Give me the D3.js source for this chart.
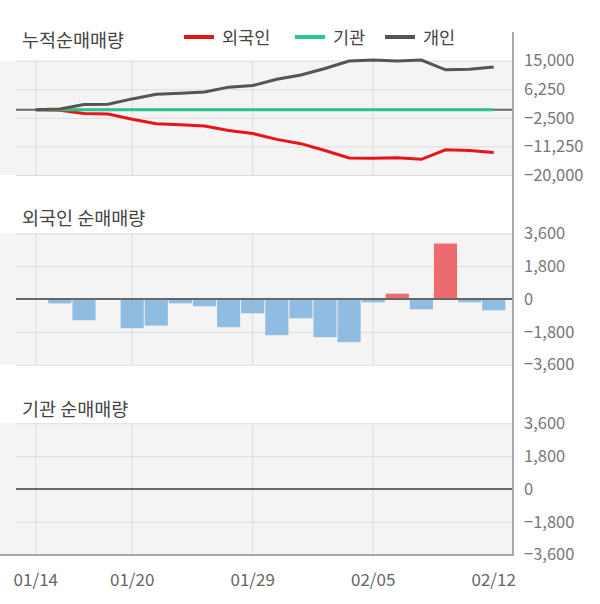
<!DOCTYPE html>
<html>
<head>
<meta charset="utf-8">
<script src="https://cdn.jsdelivr.net/npm/d3@7/dist/d3.min.js"></script>
<style>
  body { margin: 0; background: #fff; }
  text { font-family: "Noto Sans CJK KR", "Noto Sans", sans-serif; }
</style>
</head>
<body>
<div class="container"></div>
<script>
const dates = ['01/14','01/15','01/16','01/17','01/20','01/21','01/22','01/23','01/28','01/29',
               '01/30','01/31','02/03','02/04','02/05','02/06','02/07','02/10','02/11','02/12']
const dateLabels = ['01/14','01/20','01/29','02/05','02/12']
const gridDates = ['01/14','01/20','01/29','02/05']

// cumulative net buying
const foreignCum = [0,-200,-1200,-1300,-2900,-4300,-4600,-5000,-6400,-7300,
                    -9100,-10400,-12500,-14800,-14900,-14700,-15200,-12300,-12500,-13100]
const instCum = [0,0,0,0,0,0,0,0,0,0,0,0,0,0,0,0,0,0,0,0]
const personCum = [0,200,1600,1700,3300,4700,5000,5400,6900,7400,
                   9300,10600,12600,14900,15200,14900,15200,12200,12400,13100]

// daily net buying
const foreignDaily = [0,-240,-1165,0,-1600,-1456,-237,-400,-1547,-783,
                      -1984,-1056,-2093,-2366,-182,291,-564,3040,-182,-619]
const instDaily = [0,0,0,0,0,0,0,0,0,0,0,0,0,0,0,0,0,0,0,0]

const cumTicks = [15000, 6250, -2500, -11250, -20000]
const dailyTicks = [3600, 1800, 0, -1800, -3600]

const W = 600, H = 604
const plotL = 0, gridL = 16, plotR = 513

const svg = d3.select('.container').append('svg')
  .attr('width', W)
  .attr('height', H)

const x = d3.scaleBand()
  .domain(dates)
  .range([23.75, 505.75])
  .paddingInner(0.04)
  .paddingOuter(0.02)
const cx = d => x(d) + x.bandwidth() / 2

const fmt = d3.format(',')

function panel(top, bottom, domain, ticks, title, titleY) {
  const y = d3.scaleLinear().domain(domain).range([bottom, top])
  const g = svg.append('g')

  g.append('rect')
    .attr('x', plotL).attr('y', top)
    .attr('width', plotR - plotL).attr('height', bottom - top)
    .attr('fill', '#f4f4f4')

  // horizontal grid
  g.append('g')
    .attr('transform', `translate(${plotR},0)`)
    .call(d3.axisLeft(y).tickValues(ticks).tickSize(plotR - gridL).tickFormat(''))
    .call(a => a.select('.domain').remove())
    .selectAll('line').attr('stroke', '#dcdcdc')

  // vertical grid
  g.append('g')
    .attr('transform', `translate(0,${top})`)
    .call(d3.axisBottom(x).tickValues(gridDates).tickSize(bottom - top).tickFormat(''))
    .call(a => a.select('.domain').remove())
    .selectAll('line').attr('stroke', '#dcdcdc')

  // right tick labels
  g.append('g')
    .attr('transform', `translate(${plotR + 10},0)`)
    .call(d3.axisRight(y).tickValues(ticks).tickSize(0).tickFormat(fmt))
    .call(a => a.select('.domain').remove())
    .selectAll('text')
    .attr('x', 1)
    .attr('fill', '#777')
    .style('font-size', '16.5px')

  svg.append('text')
    .attr('x', 22).attr('y', titleY)
    .attr('fill', '#444')
    .style('font-size', '18.5px')
    .text(title)

  return { y, g }
}

// panel 1: cumulative
const p1 = panel(60.7, 175, [-20000, 15000], cumTicks, '누적순매매량', 47)
p1.g.append('line')
  .attr('x1', gridL).attr('x2', plotR)
  .attr('y1', p1.y(0)).attr('y2', p1.y(0))
  .attr('stroke', '#666').attr('stroke-width', 2)

const series = [
  { name: '외국인', values: foreignCum, color: '#e8141c' },
  { name: '기관', values: instCum, color: '#2bc48a' },
  { name: '개인', values: personCum, color: '#555555' }
]

series.forEach(s => {
  const line = d3.line()
    .x((d, i) => cx(dates[i]))
    .y(d => p1.y(d))
  p1.g.append('path')
    .datum(s.values)
    .attr('d', line)
    .attr('fill', 'none')
    .attr('stroke', s.color)
    .attr('stroke-width', 3)
})

// legend
const legendX = [184, 295, 385]
series.forEach((s, i) => {
  svg.append('line')
    .attr('x1', legendX[i]).attr('x2', legendX[i] + 30)
    .attr('y1', 37).attr('y2', 37)
    .attr('stroke', s.color).attr('stroke-width', 4)
  svg.append('text')
    .attr('x', legendX[i] + 38).attr('y', 44)
    .attr('fill', '#444')
    .style('font-size', '17.5px')
    .text(s.name)
})

// bar panels
function barPanel(p, values) {
  p.g.selectAll('rect.bar')
    .data(values)
    .enter()
    .append('rect')
    .attr('class', 'bar')
    .attr('x', (d, i) => x(dates[i]))
    .attr('width', x.bandwidth())
    .attr('y', d => p.y(Math.max(0, d)))
    .attr('height', d => Math.abs(p.y(d) - p.y(0)))
    .attr('fill', d => d > 0 ? '#ec6b6e' : '#8fbce0')
  p.g.append('line')
    .attr('x1', gridL).attr('x2', plotR)
    .attr('y1', p.y(0)).attr('y2', p.y(0))
    .attr('stroke', '#666').attr('stroke-width', 2)
}

const p2 = panel(233.3, 364.7, [-3600, 3600], dailyTicks, '외국인 순매매량', 225)
barPanel(p2, foreignDaily)

const p3 = panel(423.3, 554.7, [-3600, 3600], dailyTicks, '기관 순매매량', 416)
barPanel(p3, instDaily)

// bottom axis
svg.append('line')
  .attr('x1', 0).attr('x2', plotR)
  .attr('y1', 555).attr('y2', 555)
  .attr('stroke', '#aaa').attr('stroke-width', 2)

// right axis line
svg.append('line')
  .attr('x1', plotR).attr('x2', plotR)
  .attr('y1', 32).attr('y2', 556)
  .attr('stroke', '#aaa').attr('stroke-width', 2)

svg.append('g')
  .selectAll('text')
  .data(dateLabels)
  .enter()
  .append('text')
  .attr('x', d => cx(d))
  .attr('y', 586)
  .attr('text-anchor', 'middle')
  .attr('fill', '#666')
  .style('font-size', '17px')
  .text(d => d)
</script>
</body>
</html>
